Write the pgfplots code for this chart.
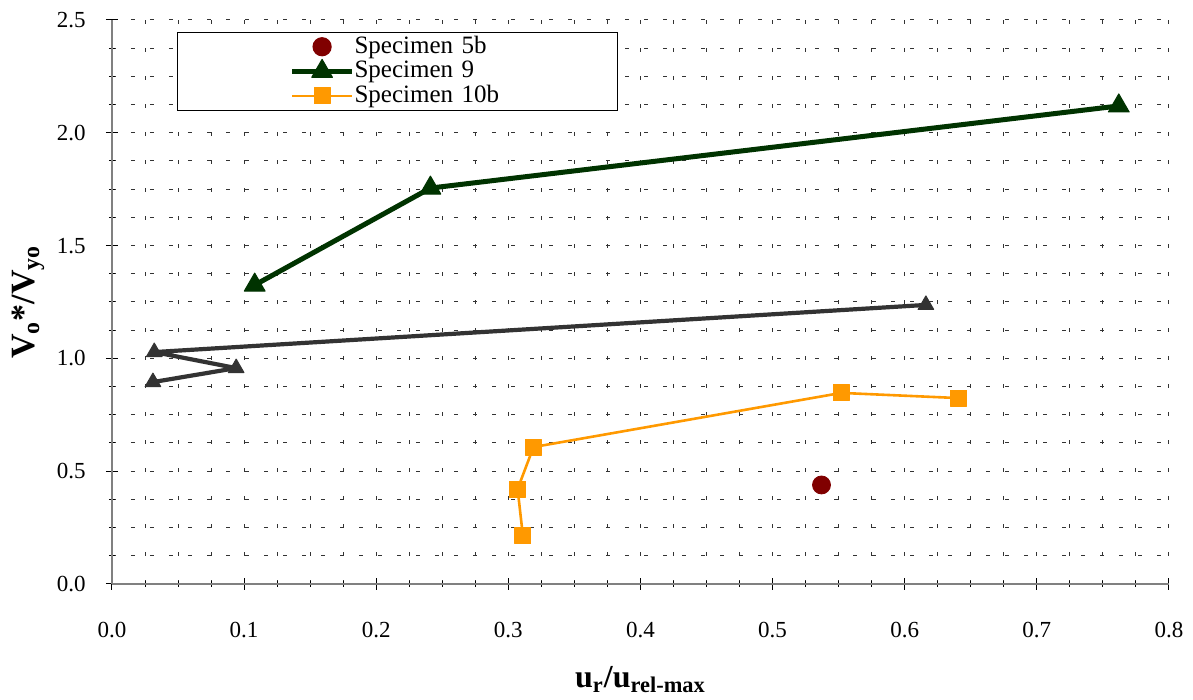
\documentclass[border=0pt]{standalone}
\usepackage{fontspec}
\setmainfont{Liberation Serif}
\usepackage{pgfplots}
\pgfplotsset{compat=1.18}
\definecolor{c5b}{HTML}{800000}
\definecolor{c9}{HTML}{003300}
\definecolor{c10}{HTML}{FF9900}
\definecolor{cg}{HTML}{333333}
\pgfplotsset{mylegimg/.style={legend image code/.code={\path (-53pt,0pt); \draw[mark repeat=2,mark phase=2,##1] plot coordinates {(0pt,0pt) (15pt,0pt) (30pt,0pt)};}}}
\begin{document}
\begin{tikzpicture}
\path[use as bounding box] (0,0) rectangle (596.5pt,350pt);
\begin{axis}[
  at={(56pt,58pt)}, anchor=south west,
  scale only axis, width=528.5pt, height=282pt,
  xmin=0, xmax=0.8, ymin=0, ymax=2.5,
  xtick={0,0.1,0.2,0.3,0.4,0.5,0.6,0.7,0.8},
  ytick={0,0.5,1.0,1.5,2.0,2.5},
  minor tick num=3,
  axis x line=bottom, axis y line=left,
  axis line style={-, draw=black!50, line width=0.8pt},
  tick style={black, line width=0.5pt},
  tick align=center,
  major tick length=6pt, minor tick length=3pt,
  grid=both,
  major x grid style={black!80, line width=0.5pt, dash pattern=on 2pt off 12pt},
  minor x grid style={black!80, line width=0.5pt, dash pattern=on 2pt off 12pt},
  major y grid style={black!80, line width=0.5pt, dash pattern=on 2pt off 7.5pt},
  minor y grid style={black!80, line width=0.5pt, dash pattern=on 2pt off 7.5pt},
  /pgf/number format/fixed, /pgf/number format/fixed zerofill,
  /pgf/number format/precision=1, /pgf/number format/assume math mode=true,
  tick label style={font=\fontsize{11.5}{13}\selectfont},
  xticklabel style={anchor=center, yshift=-20pt},
  yticklabel style={anchor=east, inner sep=0pt, xshift=-10pt},
  xlabel={\textbf{u\textsubscript{r}/u\textsubscript{rel-max}}},
  ylabel={\textbf{V\textsubscript{o}*/V\textsubscript{yo}}},
  xlabel style={font=\fontsize{16}{18}\selectfont, at={(axis description cs:0.5,-0.170)}, anchor=center},
  ylabel style={font=\fontsize{17}{19}\selectfont, at={(axis description cs:-0.0795,0.5)}, anchor=center},
  legend style={at={(0.0615,0.979)}, anchor=north west, draw=black, line width=0.6pt,
    fill=white, inner xsep=3pt, inner ysep=1pt, row sep=0pt, column sep=0pt,
    font=\fontsize{12.5}{14}\selectfont,
    nodes={text width=128.5pt, inner xsep=0pt, inner ysep=0.5pt, text height=8.8pt, text depth=2.5pt}},
  legend cell align=left,
  clip=false,
]
\addplot[only marks, mark=*, mark size=4.5pt, color=c5b, mylegimg] coordinates {(0.537,0.439)};
\addlegendentry{Specimen 5b}
\addplot[color=c9, line width=2.5pt, line join=round, mark=triangle*, mark size=6pt, mark options={solid, line width=0.5pt}, mylegimg]
  coordinates {(0.108,1.325) (0.241,1.755) (0.762,2.119)};
\addlegendentry{Specimen 9}
\addplot[color=c10, line width=1.3pt, line join=round, mark=square*, mark size=4pt, mark options={solid, line width=0.5pt}, mylegimg]
  coordinates {(0.311,0.213) (0.307,0.421) (0.319,0.607) (0.552,0.847) (0.641,0.824)};
\addlegendentry{Specimen 10b}
\addplot[forget plot, color=cg, line width=2.1pt, line join=round, mark=triangle*, mark size=4.5pt, mark options={solid, line width=0.5pt}]
  coordinates {(0.031,0.895) (0.094,0.957) (0.032,1.028) (0.616,1.237)};
\end{axis}
\end{tikzpicture}
\end{document}
